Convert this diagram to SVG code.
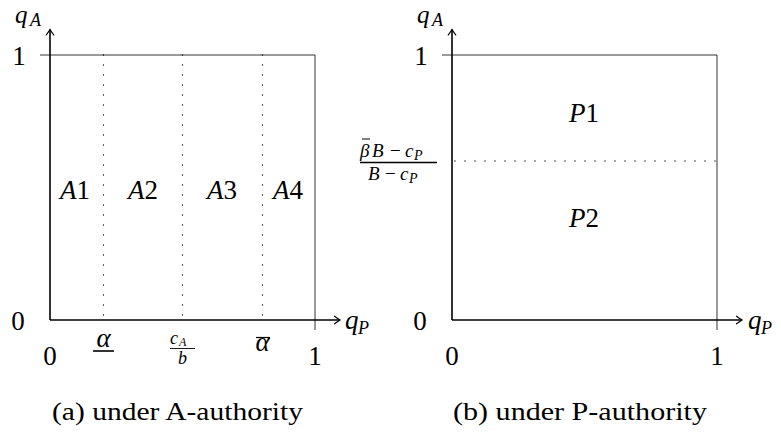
<svg xmlns="http://www.w3.org/2000/svg" width="781" height="432" viewBox="0 0 781 432" font-family="'Liberation Serif', Tinos, 'Times New Roman', 'DejaVu Serif', 'Noto Serif', serif">
<style>
text{font-family:"Liberation Serif",Tinos,"Times New Roman","DejaVu Serif","Noto Serif",serif;fill:#000}
.m{font-style:italic}
.lbl{font-size:27px}
.sub{font-style:italic}
.cap{font-size:26px}
.axis{stroke:#000;stroke-width:1.6;fill:none}
.box{stroke:#000;stroke-width:0.8;fill:none}
.dot{stroke:#000;stroke-width:1.3;stroke-linecap:round;stroke-dasharray:0 10;fill:none}
.rule{stroke:#000;fill:none}
</style>
<defs>
<marker id="arr" viewBox="-7 -5 9 10" markerWidth="9" markerHeight="10" refX="0" refY="0" orient="auto" markerUnits="userSpaceOnUse">
<path d="M-5.5,-3.8 Q-1.6,-0.9 0,0 Q-1.6,0.9 -5.5,3.8" fill="none" stroke="#000" stroke-width="1.2" stroke-linecap="round"/>
</marker>
</defs>

<g id="panel-a">
<g id="a-box">
<path class="box" d="M40,55 H315 V330"/>
</g>
<g id="a-connectors">
<line class="axis" x1="50" y1="320" x2="50" y2="29.5" marker-end="url(#arr)"/>
<line class="axis" x1="50" y1="320" x2="340" y2="320" marker-end="url(#arr)"/>
<line class="dot" x1="103.5" y1="55" x2="103.5" y2="320"/>
<line class="dot" x1="182.5" y1="55" x2="182.5" y2="320"/>
<line class="dot" x1="262.5" y1="55" x2="262.5" y2="320"/>
</g>
<g id="a-axis-labels">
<text class="m" x="15" y="23" font-size="25">q</text><text class="sub" x="30" y="26" font-size="18">A</text>
<text class="lbl m" x="345" y="329">q</text><text class="sub" x="358" y="334" font-size="18">P</text>
<text class="lbl" x="19" y="65" text-anchor="middle">1</text>
<text class="lbl" x="18" y="330" text-anchor="middle">0</text>
<text class="lbl" x="50" y="365" text-anchor="middle">0</text>
<text class="lbl" x="315" y="365" text-anchor="middle">1</text>
</g>
<g id="a-ticks">
<text class="lbl m" x="103.5" y="347" text-anchor="middle">α</text>
<line class="rule" x1="93" y1="351" x2="114" y2="351" stroke-width="1.6"/>
<text class="m" x="170" y="344" font-size="18">c</text><text class="sub" x="179" y="346" font-size="12">A</text>
<line class="rule" x1="170" y1="348.5" x2="195" y2="348.5" stroke-width="0.9"/>
<text class="m" x="182.5" y="364" font-size="18" text-anchor="middle">b</text>
<text class="lbl m" x="262.5" y="351" text-anchor="middle">α</text>
<line class="rule" x1="256" y1="337.5" x2="270" y2="337.5" stroke-width="1.2"/>
</g>
<g id="A1"><text class="lbl" x="75" y="199" text-anchor="middle"><tspan class="m">A</tspan>1</text></g>
<g id="A2"><text class="lbl" x="143" y="199" text-anchor="middle"><tspan class="m">A</tspan>2</text></g>
<g id="A3"><text class="lbl" x="222" y="199" text-anchor="middle"><tspan class="m">A</tspan>3</text></g>
<g id="A4"><text class="lbl" x="288" y="199" text-anchor="middle"><tspan class="m">A</tspan>4</text></g>
<text class="cap" x="52" y="420" textLength="251" lengthAdjust="spacingAndGlyphs">(a) under A-authority</text>
</g>

<g id="panel-b">
<g id="b-box">
<path class="box" d="M442,55 H717 V330"/>
</g>
<g id="b-connectors">
<line class="axis" x1="452" y1="320" x2="452" y2="29.5" marker-end="url(#arr)"/>
<line class="axis" x1="452" y1="320" x2="742" y2="320" marker-end="url(#arr)"/>
<line class="dot" x1="455" y1="161" x2="717" y2="161"/>
</g>
<g id="b-axis-labels">
<text class="m" x="417" y="23" font-size="25">q</text><text class="sub" x="432" y="26" font-size="18">A</text>
<text class="lbl m" x="748" y="329">q</text><text class="sub" x="761" y="334" font-size="18">P</text>
<text class="lbl" x="421" y="65" text-anchor="middle">1</text>
<text class="lbl" x="420" y="330" text-anchor="middle">0</text>
<text class="lbl" x="452" y="365" text-anchor="middle">0</text>
<text class="lbl" x="717" y="365" text-anchor="middle">1</text>
</g>
<g id="b-threshold">
<line class="rule" x1="362" y1="139" x2="370" y2="139" stroke-width="1"/>
<text class="m" x="360" y="157" font-size="19">β</text>
<text class="m" x="372" y="157" font-size="19">B</text>
<text x="390" y="157" font-size="19">−</text>
<text class="m" x="405" y="157" font-size="19">c</text>
<text class="sub" x="414" y="160" font-size="14">P</text>
<line class="rule" x1="360" y1="162.5" x2="437" y2="162.5" stroke-width="1.6"/>
<text class="m" x="368" y="180" font-size="19">B</text>
<text x="385" y="180" font-size="19">−</text>
<text class="m" x="400" y="180" font-size="19">c</text>
<text class="sub" x="409" y="183" font-size="14">P</text>
</g>
<g id="P1"><text class="lbl" x="584" y="122" text-anchor="middle"><tspan class="m">P</tspan>1</text></g>
<g id="P2"><text class="lbl" x="584" y="227" text-anchor="middle"><tspan class="m">P</tspan>2</text></g>
<text class="cap" x="453" y="420" textLength="254" lengthAdjust="spacingAndGlyphs">(b) under P-authority</text>
</g>
</svg>
